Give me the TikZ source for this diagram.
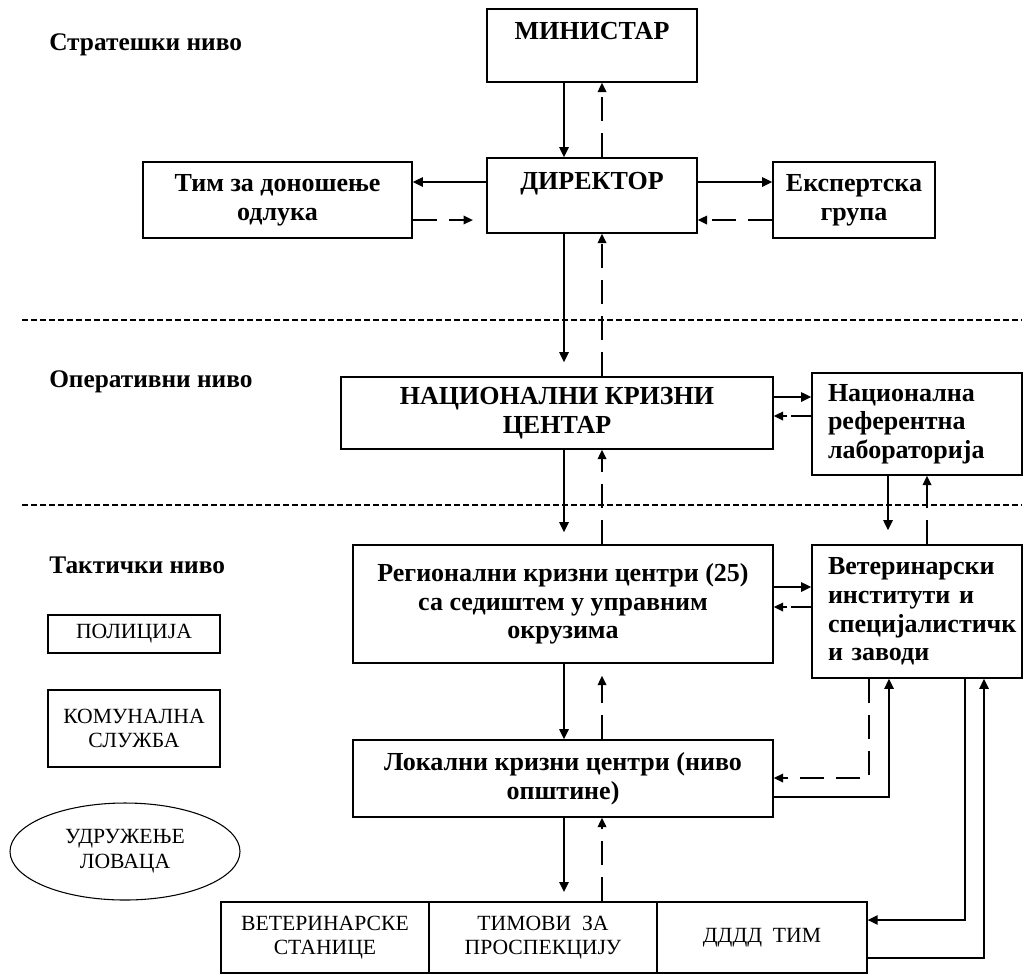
\documentclass[tikz,border=0pt]{standalone}
\usepackage{fontspec}
\setmainfont{Liberation Serif}
\usepackage{tikz}
\usetikzlibrary{arrows.meta,shapes.geometric}

\tikzset{
  kutija/.style={draw, line width=1.2pt, align=center, inner sep=0.75pt, font=\fontsize{19.5}{21.5}\selectfont\bfseries},
  levakutija/.style={kutija, align=left, text width=133.5pt, inner xsep=12pt},
  sluzba/.style={draw, line width=1pt, align=center, inner sep=0.75pt, font=\fontsize{16.25}{18.5}\selectfont},
  nivo/.style={anchor=west, inner sep=0.75pt, font=\fontsize{19}{21}\selectfont\bfseries},
  tok/.style={line width=1.2pt, -{Triangle[length=7.5pt,width=7pt]}},
  povrat/.style={line width=1.2pt, dash pattern={on 18pt off 9pt}, -{Triangle[length=7pt,width=6.5pt]}},
  granica/.style={line width=1.1pt, dash pattern={on 4.5pt off 2.25pt}}
}

\begin{document}
\begin{tikzpicture}[x=0.75pt,y=0.75pt,yscale=-1,xscale=1]
%set diagram left start at 0, and has height of 976
\useasboundingbox (0,0) rectangle (1027,976);

% Text Node
\draw (48,45) node [nivo] {Стратешки ниво};
% Text Node
\draw (48,382) node [nivo] {Оперативни ниво};
% Text Node
\draw (48,565) node [nivo] {Тактички ниво};

% Level lines
\draw [granica] (22,320) -- (1022,320);
\draw [granica] (22,505) -- (1022,505);

% Shape: Rectangle
\node (ministar) [kutija, minimum width=157.5pt, minimum height=54.75pt] at (592,45.5) {МИНИСТАР\\ ~};
% Shape: Rectangle
\node (direktor) [kutija, minimum width=157.5pt, minimum height=56.25pt] at (592,195.5) {ДИРЕКТОР\\ ~};
% Shape: Rectangle
\node (tim) [kutija, minimum width=201.75pt, minimum height=57pt] at (277.5,200) {Тим за доношење\\одлука};
% Shape: Rectangle
\node (ekspert) [kutija, minimum width=121.5pt, minimum height=57pt] at (854,200) {Експертска\\група};
% Shape: Rectangle
\node (nkc) [kutija, minimum width=324pt, minimum height=54pt] at (557,413) {НАЦИОНАЛНИ КРИЗНИ\\ЦЕНТАР};
% Shape: Rectangle
\node (lab) [levakutija, minimum height=76.5pt] at (917,424) {Национална\\референтна\\лабораторија};
% Shape: Rectangle
\node (reg) [kutija, minimum width=315pt, minimum height=88.5pt] at (563,604) {Регионални кризни центри (25)\\са седиштем у управним\\окрузима};
% Shape: Rectangle
\node (vet) [levakutija, minimum height=99.75pt] at (917,611.5) {Ветеринарски\\институти и\\специјалистичк\\и заводи};
% Shape: Rectangle
\node (lok) [kutija, minimum width=315pt, minimum height=57.75pt] at (563,778.5) {Локални кризни центри (ниво\\општине)};

% Shape: Rectangle
\node (stanice) [sluzba, minimum width=156pt, minimum height=53.25pt] at (325,937.5) {ВЕТЕРИНАРСКЕ\\СТАНИЦЕ};
% Shape: Rectangle
\node (prospekcija) [sluzba, minimum width=171pt, minimum height=53.25pt] at (543,937.5) {ТИМОВИ\ \ ЗА\\ПРОСПЕКЦИЈУ};
% Shape: Rectangle
\node (dddd) [sluzba, minimum width=157.5pt, minimum height=53.25pt] at (762,937.5) {ДДДД \ ТИМ};

% Shape: Rectangle
\node (policija) [sluzba, minimum width=129pt, minimum height=28.5pt] at (134,634) {ПОЛИЦИЈА};
% Shape: Rectangle
\node (komunalna) [sluzba, minimum width=129pt, minimum height=57.75pt] at (134,728.5) {КОМУНАЛНА\\СЛУЖБА};
% Shape: Ellipse
\node (lovci) [sluzba, ellipse, line width=0.8pt, inner sep=0pt, minimum width=172.5pt, minimum height=72.75pt] at (125,851.5) {УДРУЖЕЊЕ\\ЛОВАЦА};

% Lanes
\coordinate (la) at (564,0);
\coordinate (lb) at (602,0);
\coordinate (ya) at (0,182);
\coordinate (yb) at (0,220);
\coordinate (yc) at (0,397);
\coordinate (yd) at (0,416);
\coordinate (ye) at (0,587);
\coordinate (yf) at (0,607);
\coordinate (xa) at (888,0);
\coordinate (xb) at (927,0);
\coordinate (xc) at (869,778);
\coordinate (xd) at (889,797);
\coordinate (xe) at (965,920);
\coordinate (xf) at (984,958);

% Connection
\draw [tok] (ministar.south -| la) -- (direktor.north -| la);
% Connection
\draw [povrat] (direktor.north -| lb) -- (ministar.south -| lb);
% Connection
\draw [tok] (direktor.west |- ya) -- (tim.east |- ya);
% Connection
\draw [povrat, shorten >=10pt] (tim.east |- yb) -- (direktor.west |- yb);
% Connection
\draw [tok] (direktor.east |- ya) -- (ekspert.west |- ya);
% Connection
\draw [povrat] (ekspert.west |- yb) -- (direktor.east |- yb);
% Connection
\draw [tok, shorten >=10.5pt] (direktor.south -| la) -- (nkc.north -| la);
% Connection
\draw [povrat] (nkc.north -| lb) -- (direktor.south -| lb);
% Connection
\draw [tok] (nkc.east |- yc) -- (lab.west |- yc);
% Connection
\draw [povrat, dash pattern={on 15pt off 3pt}] (lab.west |- yd) -- (nkc.east |- yd);
% Connection
\draw [tok, shorten >=10.5pt] (lab.south -| xa) -- (vet.north -| xa);
% Connection
\draw [povrat] (vet.north -| xb) -- (lab.south -| xb);
% Connection
\draw [tok, shorten >=9pt] (nkc.south -| la) -- (reg.north -| la);
% Connection
\draw [povrat] (reg.north -| lb) -- (nkc.south -| lb);
% Connection
\draw [tok] (reg.east |- ye) -- (vet.west |- ye);
% Connection
\draw [povrat, dash pattern={on 15pt off 3pt}] (vet.west |- yf) -- (reg.east |- yf);
% Connection
\draw [tok] (reg.south -| la) -- (lok.north -| la);
% Connection
\draw [povrat, shorten >=9pt] (lok.north -| lb) -- (reg.south -| lb);
% Connection
\draw [tok, shorten >=7pt] (lok.south -| la) -- (prospekcija.north -| la);
% Connection
\draw [povrat] (prospekcija.north -| lb) -- (lok.south -| lb);
% Connection
\draw [povrat] (vet.south -| xc) |- (lok.east |- xc);
% Connection
\draw [tok] (lok.east |- xd) -| (vet.south -| xd);
% Connection
\draw [tok] (vet.south -| xe) |- (dddd.east |- xe);
% Connection
\draw [tok] (dddd.east |- xf) -| (vet.south -| xf);

\end{tikzpicture}
\end{document}
